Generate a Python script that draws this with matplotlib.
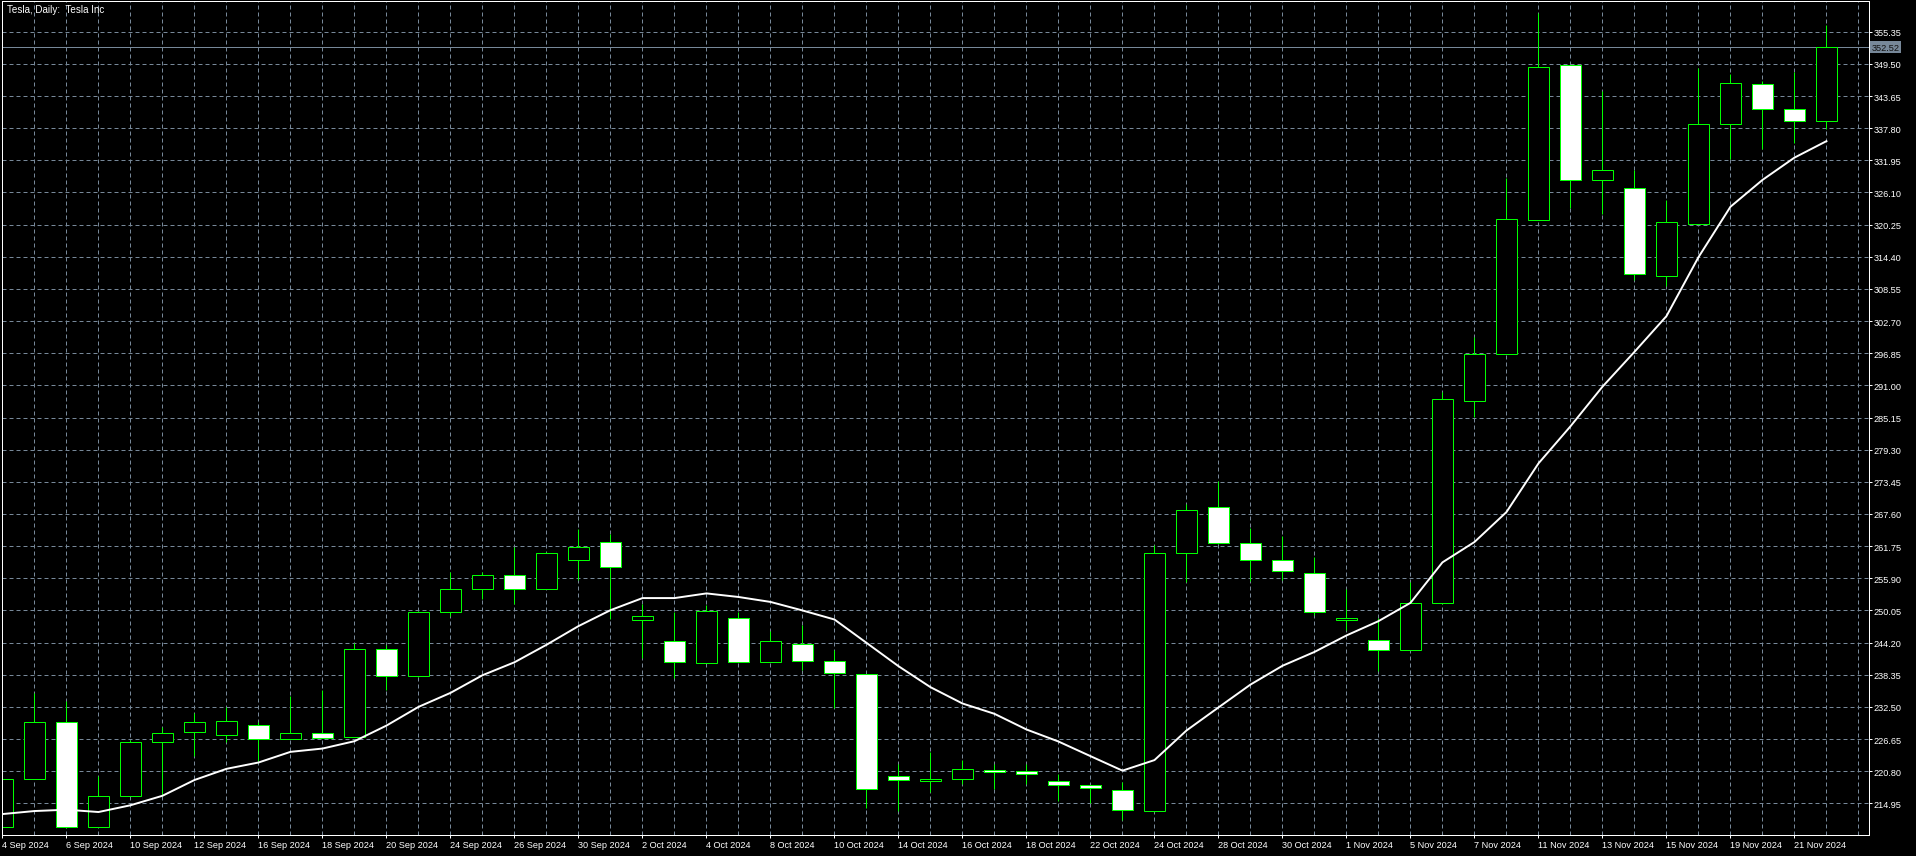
import matplotlib.pyplot as plt
from matplotlib.transforms import blended_transform_factory

# daily bars, 4 Sep 2024 .. 22 Nov 2024
dates = ["4 Sep 2024", "5 Sep 2024", "6 Sep 2024", "9 Sep 2024", "10 Sep 2024",
         "11 Sep 2024", "12 Sep 2024", "13 Sep 2024", "16 Sep 2024", "17 Sep 2024",
         "18 Sep 2024", "19 Sep 2024", "20 Sep 2024", "23 Sep 2024", "24 Sep 2024",
         "25 Sep 2024", "26 Sep 2024", "27 Sep 2024", "30 Sep 2024", "1 Oct 2024",
         "2 Oct 2024", "3 Oct 2024", "4 Oct 2024", "7 Oct 2024", "8 Oct 2024",
         "9 Oct 2024", "10 Oct 2024", "11 Oct 2024", "14 Oct 2024", "15 Oct 2024",
         "16 Oct 2024", "17 Oct 2024", "18 Oct 2024", "21 Oct 2024", "22 Oct 2024",
         "23 Oct 2024", "24 Oct 2024", "25 Oct 2024", "28 Oct 2024", "29 Oct 2024",
         "30 Oct 2024", "31 Oct 2024", "1 Nov 2024", "4 Nov 2024", "5 Nov 2024",
         "6 Nov 2024", "7 Nov 2024", "8 Nov 2024", "11 Nov 2024", "12 Nov 2024",
         "13 Nov 2024", "14 Nov 2024", "15 Nov 2024", "18 Nov 2024", "19 Nov 2024",
         "20 Nov 2024", "21 Nov 2024", "22 Nov 2024"]

opens = [210.59, 219.32, 229.70, 210.59, 216.24, 226.06, 227.98, 227.41, 229.23, 226.68,
         227.77, 227.00, 242.99, 238.08, 249.72, 253.96, 256.51, 253.90, 259.20, 262.44,
         248.25, 244.54, 240.43, 248.62, 240.72, 243.94, 240.90, 238.45, 219.90, 219.00,
         219.41, 221.05, 220.75, 219.05, 218.26, 217.43, 213.50, 260.53, 268.90, 262.32,
         259.31, 256.88, 248.34, 244.60, 242.82, 251.43, 288.20, 296.64, 321.14, 349.22,
         328.29, 327.00, 310.99, 320.41, 338.61, 345.84, 341.21, 339.10]
highs = [219.40, 235.08, 233.57, 220.00, 226.47, 228.78, 231.39, 232.50, 229.77, 234.56,
         235.65, 244.14, 243.84, 250.00, 257.05, 257.05, 261.60, 260.60, 264.81, 263.96,
         251.22, 249.68, 251.04, 249.68, 246.25, 247.40, 242.91, 238.45, 222.02, 224.26,
         222.80, 222.14, 222.14, 220.38, 218.30, 218.89, 261.93, 269.50, 273.53, 265.00,
         263.54, 259.72, 253.87, 248.75, 255.25, 289.80, 299.89, 328.80, 358.70, 349.22,
         344.54, 330.16, 324.72, 348.69, 347.63, 346.41, 348.04, 356.57]
lows = [210.55, 219.32, 210.40, 210.59, 216.24, 216.24, 223.62, 226.07, 222.62, 226.60,
        226.80, 227.00, 235.65, 238.00, 249.10, 252.14, 251.23, 253.90, 255.65, 248.48,
        241.44, 237.76, 240.43, 240.72, 240.72, 239.27, 232.24, 214.07, 213.53, 216.99,
        218.50, 217.59, 218.50, 215.35, 215.05, 211.97, 213.30, 255.22, 262.20, 255.41,
        255.66, 249.16, 246.55, 239.00, 242.82, 251.20, 285.27, 296.64, 321.14, 323.34,
        322.20, 310.26, 309.12, 320.41, 332.19, 334.06, 335.12, 337.72]
closes = [219.32, 229.70, 210.59, 216.24, 226.11, 227.75, 229.75, 230.02, 226.68, 227.83,
          226.86, 243.00, 238.20, 249.72, 253.96, 256.51, 253.96, 260.44, 261.53, 257.90,
          248.98, 240.60, 249.89, 240.72, 244.43, 240.90, 238.61, 217.59, 219.11, 219.41,
          221.23, 220.63, 220.26, 218.32, 217.71, 213.74, 260.50, 268.35, 262.32, 259.31,
          257.28, 249.72, 248.75, 242.82, 251.43, 288.60, 296.64, 321.20, 348.89, 328.29,
          330.16, 311.23, 320.82, 338.61, 346.00, 341.21, 339.10, 352.52]
ma = [213.00, 213.55, 213.79, 213.37, 214.60, 216.33, 219.20, 221.23, 222.38, 224.32,
      224.92, 226.26, 229.10, 232.50, 235.05, 238.26, 240.62, 243.80, 247.20, 250.10,
      252.30, 252.30, 253.15, 252.50, 251.60, 250.05, 248.40, 244.16, 239.91, 236.09,
      233.12, 231.24, 228.39, 226.20, 223.54, 220.90, 222.82, 228.20, 232.40, 236.56,
      239.98, 242.50, 245.50, 248.10, 251.43, 258.80, 262.50, 267.95, 276.80, 283.55,
      290.76, 297.10, 303.60, 314.32, 323.50, 328.38, 332.44, 335.44]

price_ticks = [214.95, 220.80, 226.65, 232.50, 238.35, 244.20, 250.05, 255.90, 261.75,
               267.60, 273.45, 279.30, 285.15, 291.00, 296.85, 302.70, 308.55, 314.40,
               320.25, 326.10, 331.95, 337.80, 343.65, 349.50, 355.35]
last_price = 352.52
title = "Tesla, Daily:  Tesla Inc"

GRID = '#778899'
LIME = '#00ff00'
PX = 0.72  # one pixel in points at dpi 100

plt.rcParams['font.family'] = ['Liberation Sans', 'DejaVu Sans']

fig = plt.figure(figsize=(19.16, 8.5699), dpi=100, facecolor='black')
ax = fig.add_axes([2 / 1916, 21 / 857, 1867 / 1916, 834 / 857])
ax.set_facecolor('black')

x = list(range(len(dates)))

# wicks
ax.vlines(x, lows, highs, color=LIME, lw=PX, zorder=2)

# bodies
bottoms = [min(o, c) for o, c in zip(opens, closes)]
heights = [abs(c - o) for o, c in zip(opens, closes)]
faces = ['black' if c >= o else 'white' for o, c in zip(opens, closes)]
ax.bar(x, heights, bottom=bottoms, width=0.67, color=faces,
       edgecolor=LIME, linewidth=PX, zorder=3)

# moving average
ax.plot(x, ma, color='white', lw=1.4, zorder=4, solid_joinstyle='round')

# last price line + label
ax.axhline(last_price, color=GRID, lw=PX, zorder=1.5)
trans = blended_transform_factory(ax.transAxes, ax.transData)
ax.text(1.0012, last_price, f"{last_price:.2f}", transform=trans, ha='left', va='center',
        fontsize=6.6, color='#111111', clip_on=False,
        bbox=dict(boxstyle='square,pad=0.18', fc=GRID, ec='none'))

ax.set_xlim(-0.0156, 58.33)
ax.set_ylim(209.19, 360.94)

# axes / ticks
ax.set_xticks(x[::2])
ax.set_xticklabels(dates[::2], ha='left')
ax.set_xticks(range(len(dates) + 1), minor=True)
ax.set_yticks(price_ticks)
ax.set_yticklabels([f"{p:.2f}" for p in price_ticks])
ax.yaxis.tick_right()

ax.tick_params(axis='x', which='major', colors='white', labelsize=6.6, length=3 * PX,
               width=PX, direction='out', pad=1.5)
ax.tick_params(axis='x', which='minor', length=0)
ax.tick_params(axis='y', colors='white', labelsize=6.6, length=3 * PX, width=PX,
               direction='out', pad=1, right=True, left=False)

ax.grid(True, which='both', axis='x', color=GRID, lw=PX, ls=(0, (4, 3)), zorder=0)
ax.grid(True, which='major', axis='y', color=GRID, lw=PX, ls=(0, (4, 3)), zorder=0)
ax.set_axisbelow(True)

for sp in ax.spines.values():
    sp.set_color('white')
    sp.set_linewidth(PX)
    sp.set_zorder(6)

fig.text(7.3 / 1916, 1 - 9.7 / 857, title, color='white', fontsize=7.1,
         ha='left', va='center')

fig.savefig('out.png', dpi=100, facecolor='black')
